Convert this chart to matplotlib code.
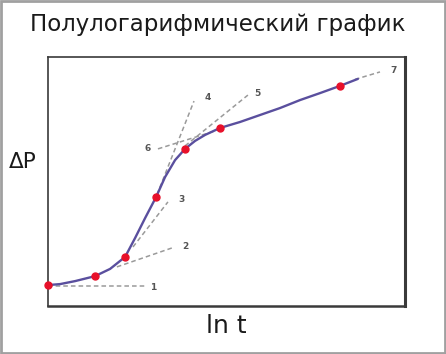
import matplotlib
matplotlib.use("Agg")
import matplotlib.pyplot as plt
from matplotlib.patches import Rectangle

# Curve data (ln t, ΔP) in arbitrary units
curve_x = [0.00, 0.34, 0.76, 1.32, 1.74, 2.16, 2.44, 2.72, 3.03, 3.28, 3.56, 3.84,
           4.12, 4.40, 4.82, 5.38, 5.94, 6.50, 7.06, 7.62, 8.18, 8.68]
curve_y = [0.84, 0.88, 1.00, 1.20, 1.49, 1.97, 2.73, 3.53, 4.38, 5.18, 5.86, 6.31,
           6.63, 6.87, 7.15, 7.39, 7.67, 7.95, 8.27, 8.55, 8.84, 9.12]

# Marked points
pts_x = [0.00, 1.32, 2.16, 3.03, 3.84, 4.82, 8.18]
pts_y = [0.84, 1.20, 1.97, 4.38, 6.31, 7.15, 8.84]

# Tangent (dashed) lines: label, x0, y0, x1, y1
tan_labels = ["1", "2", "3", "4", "5", "6", "7"]
tan_x0 = [0.00, 1.93, 2.38, 3.05, 3.84, 3.08, 8.60]
tan_y0 = [0.80, 1.57, 2.37, 4.46, 6.43, 6.31, 9.10]
tan_x1 = [2.72, 3.47, 3.36, 4.09, 5.60, 4.68, 9.30]
tan_y1 = [0.80, 2.33, 4.18, 8.23, 8.47, 7.03, 9.40]
lab_x = [2.86, 3.75, 3.64, 4.40, 5.77, 2.89, 9.58]
lab_y = [0.76, 2.37, 4.26, 8.39, 8.55, 6.31, 9.44]
lab_ha = ["left", "left", "left", "left", "left", "right", "left"]

fig = plt.figure(figsize=(4.46, 3.54), dpi=100)
fig.patch.set_facecolor("white")
ax = fig.add_axes([0.1076, 0.1356, 0.8004, 0.7034])
ax.set_xlim(0, 10)
ax.set_ylim(0, 10)
ax.set_xticks([])
ax.set_yticks([])
for s in ax.spines.values():
    s.set_color("#3a3a3a")
    s.set_linewidth(1.2)
ax.spines["right"].set_linewidth(2.2)
ax.spines["bottom"].set_linewidth(1.8)

for i in range(len(tan_labels)):
    ax.plot([tan_x0[i], tan_x1[i]], [tan_y0[i], tan_y1[i]], color="#9a9a9a",
            lw=1.1, ls=(0, (3, 2)), zorder=2)
    ax.text(lab_x[i], lab_y[i], tan_labels[i], fontsize=6.5, color="#555555",
            fontweight="bold", ha=lab_ha[i], va="center")

ax.plot(curve_x, curve_y, color="#5a4f9e", lw=1.7, zorder=3,
        solid_capstyle="round", solid_joinstyle="round")
ax.plot(pts_x, pts_y, "o", color="#e8102a", ms=5, zorder=4, clip_on=False)

fig.text(218 / 446, 1 - 25 / 354, "Полулогарифмический график", ha="center",
         va="center", fontsize=16.5, color="#1a1a1a")
fig.text(23 / 446, 1 - 162 / 354, "ΔP", ha="center", va="center", fontsize=15.5,
         color="#1a1a1a")
fig.text(226 / 446, 1 - 326 / 354, "ln t", ha="center", va="center", fontsize=18,
         color="#1a1a1a")

fig.patches.append(Rectangle((0.002, 0.003), 0.996, 0.994, transform=fig.transFigure,
                             fill=False, edgecolor="#a0a0a0", lw=2))

fig.savefig("out.png", dpi=100)
